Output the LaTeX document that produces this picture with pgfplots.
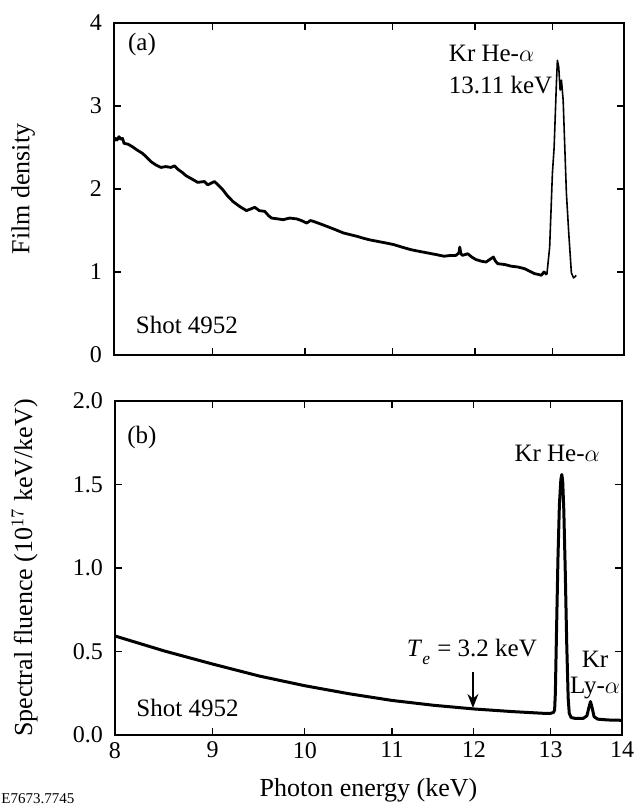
\documentclass[border=0pt]{standalone}
\usepackage{fontspec}
\setmainfont{Liberation Serif}
\usepackage{pgfplots}
\usepackage{pgfplotstable}
\pgfplotsset{compat=1.18}
\usetikzlibrary{arrows.meta}

\pgfplotstableread{
E D
8.000 2.58
8.015 2.61
8.030 2.59
8.050 2.63
8.067 2.60
8.085 2.61
8.100 2.55
8.140 2.54
8.183 2.51
8.230 2.47
8.284 2.43
8.330 2.38
8.370 2.33
8.420 2.29
8.472 2.26
8.520 2.27
8.575 2.26
8.610 2.28
8.642 2.24
8.690 2.20
8.729 2.16
8.790 2.12
8.850 2.08
8.920 2.09
8.955 2.05
8.990 2.07
9.025 2.09
9.070 2.04
9.113 1.99
9.160 1.92
9.219 1.85
9.290 1.79
9.363 1.74
9.410 1.76
9.452 1.78
9.500 1.74
9.560 1.73
9.600 1.68
9.633 1.65
9.700 1.64
9.760 1.63
9.830 1.65
9.908 1.64
9.960 1.62
10.020 1.59
10.060 1.62
10.093 1.61
10.170 1.58
10.244 1.55
10.340 1.51
10.432 1.47
10.510 1.45
10.586 1.43
10.650 1.41
10.721 1.39
10.819 1.37
10.920 1.35
11.014 1.33
11.110 1.30
11.213 1.27
11.310 1.25
11.415 1.23
11.520 1.21
11.617 1.19
11.700 1.20
11.762 1.20
11.800 1.23
11.810 1.30
11.825 1.22
11.845 1.20
11.908 1.22
11.960 1.18
12.012 1.15
12.080 1.13
12.139 1.12
12.200 1.16
12.232 1.18
12.260 1.13
12.288 1.10
12.380 1.09
12.460 1.07
12.550 1.06
12.634 1.04
12.700 1.01
12.766 0.98
12.820 0.97
12.855 0.96
12.892 1.00
12.930 0.97
}\filmdata

\pgfplotstableread{
E D
12.930 0.97
12.967 1.30
13.004 2.19
13.027 2.50
13.058 3.28
13.071 3.55
13.089 3.47
13.108 3.19
13.126 3.31
13.149 3.07
13.193 1.95
13.225 1.47
13.261 0.99
13.290 0.93
13.306 0.94
13.328 0.96
}\filmpeak

\pgfplotstableread{
E F
8.00 0.593
8.50 0.503
9.00 0.425
9.50 0.353
10.00 0.295
10.50 0.247
11.00 0.207
11.50 0.178
12.00 0.156
12.50 0.140
12.90 0.130
13.00 0.130
13.04 0.135
13.055 0.15
13.065 0.25
13.08 0.60
13.10 1.05
13.12 1.38
13.14 1.53
13.153 1.56
13.165 1.52
13.18 1.35
13.20 0.98
13.22 0.55
13.24 0.22
13.255 0.13
13.28 0.105
13.33 0.100
13.45 0.100
13.50 0.115
13.525 0.160
13.55 0.200
13.575 0.160
13.60 0.110
13.65 0.095
13.80 0.090
14.00 0.088
}\fluence

\pgfplotsset{
  myaxis/.style={
    scale only axis,
    xmin=8, xmax=14,
    x coord trafo/.code={\pgfmathparse{(##1-8)*(100.2-2.61*(##1-8))}},
    x coord inv trafo/.code={\pgfmathparse{8+(100.2-sqrt(10040.04-10.44*##1))/5.22}},
    xtick={8,9,10,11,12,13,14},
    tick align=inside,
    major tick length=3.5pt,
    axis line style={line width=0.6pt},
    every tick/.style={line width=0.6pt,black},
    tick label style={font=\fontsize{12}{14}\selectfont},
    yticklabel style={xshift=-2.5pt},
    every axis y label/.style={at={(axis description cs:-0.178,0.5)}, rotate=90, anchor=center, font=\fontsize{13}{15}\selectfont},
    every axis x label/.style={at={(axis description cs:0.5,-0.165)}, anchor=center, font=\fontsize{13}{15}\selectfont},
  }
}

\begin{document}
\begin{tikzpicture}
\path[use as bounding box] (-57pt,-227.5pt) rectangle (262.5pt,177.5pt);

\begin{axis}[myaxis,
  at={(0pt,0pt)}, anchor=south west,
  width=255pt, height=166pt,
  ymin=0, ymax=4,
  ytick={0,1,2,3,4},
  yticklabels={0,1,2,3,4},
  xticklabels={},
  ylabel={Film density},
]
\addplot[black, line width=1.4pt, line join=round] table[x=E,y=D]{\filmdata};
\addplot[black, line width=0.8pt, line join=round] table[x=E,y=D]{\filmpeak};
\node[font=\fontsize{12.5}{15}\selectfont] at (axis description cs:0.055,0.934) {(a)};
\node[font=\fontsize{12.5}{15}\selectfont] at (axis description cs:0.143,0.09) {Shot 4952};
\node[anchor=west, align=left, font=\fontsize{12.5}{16}\selectfont] at (axis description cs:0.643,0.861) {Kr He-$\alpha$\\13.11 keV};
\end{axis}

\begin{axis}[myaxis, name=bot,
  at={(0.5pt,-190pt)}, anchor=south west,
  width=253.5pt, height=167pt,
  ymin=0, ymax=2,
  ytick={0,0.5,1,1.5,2},
  yticklabels={0.0,0.5,1.0,1.5,2.0},
  xticklabels={8,9,10,11,12,13,14},
  ylabel={Spectral fluence (10$^{17}$ keV/keV)},
  xlabel={Photon energy (keV)},
]
\addplot[black, line width=1.5pt, line join=round] table[x=E,y=F]{\fluence};
\node[font=\fontsize{12.5}{15}\selectfont] at (axis description cs:0.053,0.892) {(b)};
\node[font=\fontsize{12.5}{15}\selectfont] at (axis description cs:0.143,0.081) {Shot 4952};
\node[font=\fontsize{12.5}{15}\selectfont] at (axis description cs:0.872,0.844) {Kr He-$\alpha$};
\node[align=center, font=\fontsize{12.5}{13}\selectfont] at (axis description cs:0.947,0.18) {Kr\\Ly-$\alpha$};
\node[font=\fontsize{12.5}{15}\selectfont] at (axis description cs:0.704,0.249) {\textit{T}\raisebox{-0.35ex}{\textsubscript{\textit{e}}} = 3.2 keV};
\draw[-{Stealth[length=7pt,width=5.5pt]}, line width=0.7pt] (axis description cs:0.706,0.188) -- (axis description cs:0.706,0.081);
\end{axis}
\node[anchor=west, inner sep=0pt, font=\fontsize{7.5}{9}\selectfont] at ([xshift=-57pt,yshift=-32pt]bot.south west) {E7673.7745};
\end{tikzpicture}
\end{document}
